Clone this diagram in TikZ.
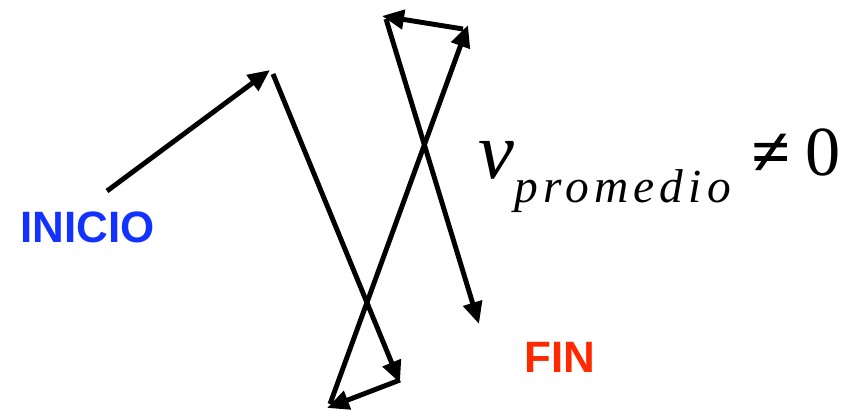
\documentclass[tikz,border=0pt]{standalone}
\usepackage{fontspec}
\setmainfont{Liberation Serif}
\newfontfamily\arialfont{Liberation Sans}
\usetikzlibrary{arrows.meta}
\definecolor{azulinicio}{RGB}{20,50,255}
\definecolor{rojofin}{RGB}{255,40,0}
\begin{document}
\begin{tikzpicture}[x=0.02cm,y=-0.02cm,
		tramo/.style={line width=2.8pt,-{Triangle[length=0.44cm,width=0.38cm]}},
		etiqueta/.style={inner sep=0,anchor=base west,font=\arialfont\bfseries\fontsize{25}{25}\selectfont},
		formula/.style={inner sep=0,anchor=base west}]
			\useasboundingbox (0,0) rectangle (852,411);
			%puntos del recorrido
			\coordinate (a0) at (107,191);
			\coordinate (a1) at (270,70);
			\coordinate (b0) at (273,74);
			\coordinate (b1) at (400,383);
			\coordinate (c0) at (400,380);
			\coordinate (c1) at (327,408);
			\coordinate (d0) at (330,404);
			\coordinate (d1) at (468,25);
			\coordinate (e0) at (463,29);
			\coordinate (e1) at (382,16);
			\coordinate (f0) at (386,19);
			\coordinate (f1) at (479,324);
			%recorrido
			\draw[tramo] (a0) -- (a1);
			\draw[tramo] (b0) -- (b1);
			\draw[tramo] (c0) -- (c1);
			\draw[tramo] (d0) -- (d1);
			\draw[tramo] (e0) -- (e1);
			\draw[tramo] (f0) -- (f1);
			%textos
			\node[etiqueta,text=azulinicio] (inicio) at (20,243) {INICIO};
			\node[etiqueta,text=rojofin] (fin) at (524,373) {FIN};
			\node[formula,font=\itshape\fontsize{46}{46}\selectfont] (vel) at (478,179) {v};
			\node[formula,font=\itshape\fontsize{27}{27}\selectfont\addfontfeature{LetterSpace=11}] (sub) at (514,203) {promedio};
			\node[formula,font=\fontsize{38}{38}\selectfont\addfontfeature{FakeBold=2}] (dist) at (752,174) {≠};
			\node[formula,font=\fontsize{40}{40}\selectfont] (cero) at (805,176) {0};
		\end{tikzpicture}
\end{document}
